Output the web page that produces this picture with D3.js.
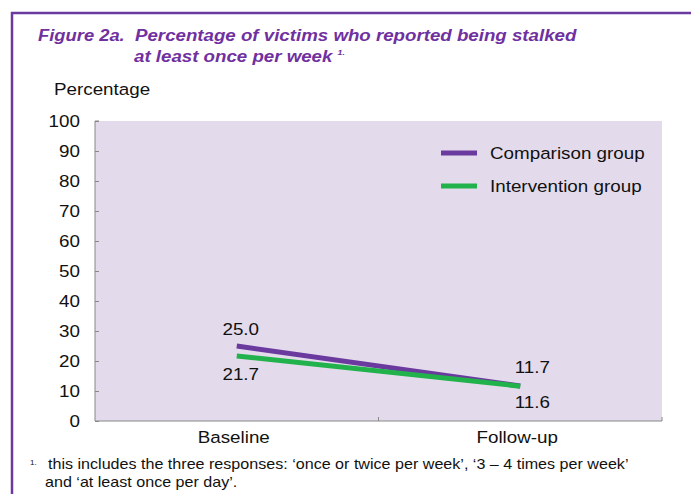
<!DOCTYPE html>
<html><head><meta charset="utf-8">
<script src="https://cdn.jsdelivr.net/npm/d3@7"></script>
<style>body{margin:0;background:#fff}svg{display:block;font-family:"Liberation Sans",Arial,sans-serif}</style>
</head><body>
<svg id="c" width="691" height="494"></svg>
<script>
const categories = ["Baseline", "Follow-up"];
const seriesNames = ["Comparison group", "Intervention group"];
const comparison = [25.0, 11.7];
const intervention = [21.7, 11.6];
const yTicks = [0,10,20,30,40,50,60,70,80,90,100];
const colors = ["#6B3A9E", "#22B24C"];

const svg = d3.select("#c");
const SX = 1.14;
function txt(x, y, s, o = {}) {
  const t = svg.append("text")
    .attr("transform", `translate(${x},${y}) scale(${o.sx || SX},1)`)
    .attr("font-size", o.size || 16.5)
    .attr("fill", o.fill || "#111")
    .attr("text-anchor", o.anchor || "start");
  if (o.bold) t.attr("font-weight", "bold");
  if (o.italic) t.attr("font-style", "italic");
  t.text(s);
  return t;
}

// frame
svg.append("line").attr("x1",11).attr("x2",691).attr("y1",13).attr("y2",13).attr("stroke","#6B3A9E").attr("stroke-width",2.5);
svg.append("line").attr("x1",12).attr("x2",12).attr("y1",12).attr("y2",494).attr("stroke","#6B3A9E").attr("stroke-width",2.5);

// title
const tc = "#7030A0";
const topt = {fill: tc, size: 17, bold: true, italic: true, sx: 1.08};
txt(38, 41, "Figure 2a.", topt);
txt(135, 41, "Percentage of victims who reported being stalked", {...topt, sx: 1.1});
const t2 = txt(134, 62, "at least once per week ", {...topt, sx: 1.1});
t2.append("tspan").attr("font-size",8).attr("dy",-7).text("1.");

txt(54, 95, "Percentage");

const L=95, R=662, T=121, B=421;
const x = d3.scaleBand().domain(categories).range([L,R]);
const y = d3.scaleLinear().domain([0,100]).range([B,T]);

svg.append("rect").attr("x",L).attr("y",T).attr("width",R-L).attr("height",B-T).attr("fill","#E3DBEC");

// y axis
const ya = svg.append("g").attr("transform",`translate(${L},0)`)
  .call(d3.axisRight(y).tickValues(yTicks).tickSize(4).tickFormat(""));
ya.select(".domain").attr("stroke","#888").attr("d",`M4,${T}H0V${B}`);
ya.selectAll(".tick line").attr("stroke","#888");
yTicks.forEach(d => txt(80, y(d)+6, d, {anchor: "end"}));

// x axis
const xa = svg.append("g").attr("transform",`translate(0,${B})`);
xa.append("line").attr("x1",L).attr("x2",R).attr("stroke","#888");
xa.selectAll("line.tk").data([x.range()[0]+x.bandwidth(), R]).join("line").attr("class","tk")
  .attr("x1",d=>d).attr("x2",d=>d).attr("y1",0).attr("y2",-4).attr("stroke","#888");
categories.forEach(c => txt(x(c)+x.bandwidth()/2-3, B+22, c, {anchor: "middle"}));

// lines
const line = d3.line().x((d,i)=>x(categories[i])+x.bandwidth()/2).y(d=>y(d));
[comparison, intervention].forEach((s,k)=>{
  svg.append("path").datum(s).attr("d",line).attr("fill","none").attr("stroke",colors[k]).attr("stroke-width",5);
});

// labels
const lab = (vals, dys, dx) => vals.forEach((v,i)=>{
  txt(x(categories[i])+x.bandwidth()/2+dx[i], y(v)+dys[i], v.toFixed(1), {anchor: "middle"});
});
lab(comparison, [-11, -13], [4, 12]);
lab(intervention, [24, 22], [4, 12]);

// legend
seriesNames.forEach((n,i)=>{
  const yy = 153 + i*33;
  svg.append("line").attr("x1",441).attr("x2",477).attr("y1",yy).attr("y2",yy).attr("stroke",colors[i]).attr("stroke-width",5);
  txt(490, yy+6, n);
});

// footnote
svg.append("text").attr("x",30).attr("y",465).attr("font-size",8).attr("fill","#111").text("1.");
txt(48, 469, "this includes the three responses: \u2018once or twice per week\u2019, \u20183 \u2013 4 times per week\u2019", {size: 14, sx: 1.15});
txt(45, 487, "and \u2018at least once per day\u2019.", {size: 14, sx: 1.15});
</script>
</body></html>
